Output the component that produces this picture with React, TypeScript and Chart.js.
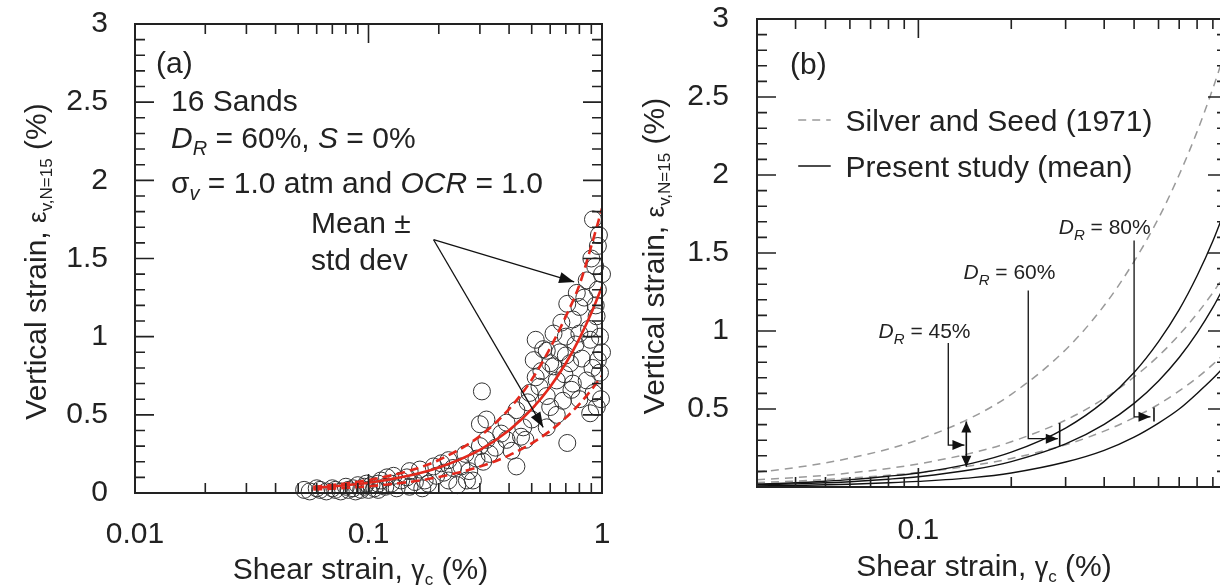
import React, { useEffect, useRef } from 'react';
import { Chart, registerables } from 'chart.js';

Chart.register(...registerables);

const FONT = '"Liberation Sans", Arial, Helvetica, sans-serif';
const INK = '#222222';
const RED = '#e3281c';
const GRAY = '#9a9a9a';

// ---------- Panel (a) data ----------
const scatterX = [
  0.053, 0.056, 0.06, 0.062, 0.066, 0.07, 0.072, 0.076, 0.08, 0.082, 0.086, 0.088, 0.09, 0.093, 0.096, 0.098,
  0.1, 0.103, 0.106, 0.11, 0.11, 0.113, 0.118, 0.12, 0.125, 0.128, 0.132, 0.138, 0.146, 0.15, 0.15, 0.158,
  0.166, 0.17, 0.174, 0.18, 0.19, 0.195, 0.205, 0.21, 0.22, 0.22, 0.23, 0.24, 0.25, 0.26, 0.264, 0.27,
  0.28, 0.29, 0.3, 0.3, 0.306, 0.31, 0.32, 0.32, 0.33, 0.35, 0.37, 0.39, 0.39, 0.41, 0.43, 0.43,
  0.45, 0.46, 0.47, 0.48, 0.49, 0.5, 0.51, 0.52, 0.52, 0.54, 0.55, 0.56, 0.58, 0.58, 0.58, 0.6,
  0.6, 0.62, 0.62, 0.64, 0.64, 0.66, 0.67, 0.68, 0.69, 0.7, 0.7, 0.71, 0.71, 0.73, 0.74, 0.75,
  0.75, 0.77, 0.78, 0.8, 0.8, 0.8, 0.82, 0.84, 0.86, 0.86, 0.88, 0.89, 0.89, 0.9, 0.91, 0.92,
  0.915, 0.935, 0.94, 0.948, 0.95, 0.96, 0.96, 0.96, 0.97, 0.98, 0.98, 0.99, 1.0, 1.0,
];
const scatterY = [
  0.02, 0.01, 0.03, 0.02, 0.01, 0.03, 0.02, 0.01, 0.04, 0.02, 0.03, 0.01, 0.05, 0.02, 0.04, 0.06,
  0.02, 0.05, 0.03, 0.06, 0.02, 0.08, 0.04, 0.1, 0.06, 0.11, 0.03, 0.08, 0.1, 0.14, 0.04, 0.07,
  0.15, 0.03, 0.08, 0.06, 0.17, 0.11, 0.19, 0.13, 0.21, 0.08, 0.16, 0.05, 0.17, 0.25, 0.08, 0.14,
  0.08, 0.22, 0.3, 0.44, 0.65, 0.2, 0.47, 0.34, 0.25, 0.29, 0.38, 0.45, 0.34, 0.27, 0.53, 0.17,
  0.36, 0.42, 0.34, 0.58, 0.64, 0.47, 0.85, 0.74, 0.98, 0.68, 0.78, 0.92, 0.62, 0.42, 0.91, 0.55,
  0.83, 0.81, 1.02, 0.72, 0.5, 0.9, 1.09, 0.59, 0.76, 1.0, 0.88, 0.32, 1.21, 0.83, 0.66, 1.11,
  0.7, 0.95, 1.28, 1.19, 1.02, 0.6, 0.86, 1.25, 1.36, 0.72, 1.05, 0.98, 0.51, 1.5, 0.8, 0.64,
  1.75, 1.45, 1.2, 1.13, 0.55, 1.58, 1.3, 0.85, 1.65, 0.77, 1.0, 0.6, 1.4, 0.9,
];
const curveXA = [0.058, 0.07, 0.08, 0.1, 0.15, 0.2, 0.3, 0.4, 0.5, 0.6, 0.7, 0.8, 0.9, 1.0];
const meanA = [0.033, 0.042, 0.05, 0.066, 0.112, 0.163, 0.276, 0.401, 0.536, 0.68, 0.83, 0.988, 1.151, 1.32];
const upperA = [0.04, 0.051, 0.061, 0.083, 0.143, 0.211, 0.364, 0.537, 0.725, 0.928, 1.13, 1.33, 1.58, 1.82];
const lowerA = [0.022, 0.028, 0.033, 0.043, 0.071, 0.102, 0.169, 0.241, 0.318, 0.398, 0.482, 0.569, 0.659, 0.75];

// ---------- Panel (b) data ----------
const curveXB = [0.03, 0.04, 0.05, 0.06, 0.08, 0.1, 0.15, 0.2, 0.3, 0.4, 0.5, 0.6, 0.7, 0.8, 0.9, 1.0];
const present45 = [0.019, 0.027, 0.037, 0.047, 0.069, 0.09, 0.153, 0.223, 0.378, 0.549, 0.734, 0.932, 1.137, 1.354, 1.577, 1.81];
const present60 = [0.014, 0.02, 0.027, 0.034, 0.05, 0.066, 0.112, 0.163, 0.276, 0.401, 0.536, 0.68, 0.83, 0.988, 1.151, 1.32];
const present80 = [0.007, 0.01, 0.014, 0.018, 0.027, 0.036, 0.06, 0.09, 0.16, 0.235, 0.32, 0.41, 0.5, 0.6, 0.695, 0.79];
const silver45 = [0.094, 0.125, 0.155, 0.185, 0.244, 0.303, 0.449, 0.594, 0.88, 1.163, 1.446, 1.723, 2.002, 2.278, 2.555, 2.83];
const silver60 = [0.046, 0.061, 0.075, 0.09, 0.119, 0.148, 0.219, 0.29, 0.429, 0.567, 0.705, 0.84, 0.976, 1.111, 1.246, 1.38];
const silver80 = [0.029, 0.038, 0.048, 0.057, 0.075, 0.093, 0.138, 0.183, 0.271, 0.358, 0.445, 0.53, 0.616, 0.7, 0.786, 0.87];

// ---------- Axis ticks ----------
const xMajorA = [0.01, 0.1, 1];
const xMinorA = [0.02, 0.03, 0.04, 0.05, 0.06, 0.07, 0.08, 0.09, 0.2, 0.3, 0.4, 0.5, 0.6, 0.7, 0.8, 0.9];
const xMajorB = [0.1, 1];
const xMinorB = [0.04, 0.05, 0.06, 0.07, 0.08, 0.09, 0.2, 0.3, 0.4, 0.5, 0.6, 0.7, 0.8, 0.9];
const yMajor = [0, 0.5, 1, 1.5, 2, 2.5, 3];
const yMinor = [0.1, 0.2, 0.3, 0.4, 0.6, 0.7, 0.8, 0.9, 1.1, 1.2, 1.3, 1.4, 1.6, 1.7, 1.8, 1.9, 2.1, 2.2, 2.3, 2.4, 2.6, 2.7, 2.8, 2.9];

// ---------- Annotation anchors (data coordinates) ----------
const arrowStartA = [0.19, 1.62];
const arrowEndsA = [[0.76, 1.35], [0.56, 0.42]];
const leader45 = [[0.125, 0.923], [0.125, 0.269], [0.141, 0.269]];
const leader60 = [[0.227, 1.26], [0.227, 0.31], [0.283, 0.31]];
const leader80 = [[0.5, 1.58], [0.5, 0.45], [0.565, 0.45]];
const bar45 = [[0.143, 0.13], [0.143, 0.42]];
const bar60 = [[0.287, 0.26], [0.287, 0.41]];
const bar80 = [[0.58, 0.42], [0.58, 0.51]];

type Seg = { t: string; size: number; italic?: boolean; dy?: number };

const fontStr = (size: number, italic?: boolean) => `${italic ? 'italic ' : ''}${size}px ${FONT}`;

function richWidth(ctx: CanvasRenderingContext2D, segs: Seg[]) {
  let w = 0;
  for (const s of segs) {
    ctx.font = fontStr(s.size, s.italic);
    w += ctx.measureText(s.t).width;
  }
  return w;
}

function drawRich(ctx: CanvasRenderingContext2D, segs: Seg[], x: number, yc: number, align: 'left' | 'center') {
  const w = richWidth(ctx, segs);
  let cx = align === 'center' ? x - w / 2 : x;
  const baseline = yc + segs[0].size * 0.36;
  ctx.textAlign = 'left';
  ctx.textBaseline = 'alphabetic';
  ctx.fillStyle = INK;
  for (const s of segs) {
    ctx.font = fontStr(s.size, s.italic);
    ctx.fillText(s.t, cx, baseline + (s.dy || 0));
    cx += ctx.measureText(s.t).width;
  }
}

function head(ctx: CanvasRenderingContext2D, x1: number, y1: number, x2: number, y2: number, len: number, half: number) {
  const a = Math.atan2(y2 - y1, x2 - x1);
  const bx = x2 - len * Math.cos(a);
  const by = y2 - len * Math.sin(a);
  ctx.beginPath();
  ctx.moveTo(x2, y2);
  ctx.lineTo(bx + half * Math.sin(a), by - half * Math.cos(a));
  ctx.lineTo(bx - half * Math.sin(a), by + half * Math.cos(a));
  ctx.closePath();
  ctx.fill();
}

function drawFrame(chart: any, xMajor: number[], xMinor: number[]) {
  const { ctx, chartArea: a, scales } = chart;
  const xs = scales.x;
  const ys = scales.y;
  ctx.save();
  ctx.strokeStyle = INK;
  ctx.lineWidth = 1.6;
  ctx.beginPath();
  const vx = (v: number, len: number) => {
    const p = xs.getPixelForValue(v);
    if (p < a.left - 0.5 || p > a.right + 0.5) return;
    ctx.moveTo(p, a.bottom);
    ctx.lineTo(p, a.bottom - len);
    ctx.moveTo(p, a.top);
    ctx.lineTo(p, a.top + len);
  };
  const vy = (v: number, len: number) => {
    const p = ys.getPixelForValue(v);
    ctx.moveTo(a.left, p);
    ctx.lineTo(a.left + len, p);
    ctx.moveTo(a.right, p);
    ctx.lineTo(a.right - len, p);
  };
  xMajor.forEach((v) => vx(v, 19));
  xMinor.forEach((v) => vx(v, 10));
  yMajor.forEach((v) => vy(v, 19));
  yMinor.forEach((v) => vy(v, 10));
  ctx.stroke();
  ctx.lineWidth = 2;
  ctx.strokeRect(a.left, a.top, a.right - a.left, a.bottom - a.top);
  ctx.restore();
}

function drawTitles(chart: any, yTitleX: number, xTitleY: number) {
  const { ctx, chartArea: a } = chart;
  ctx.save();
  drawRich(
    ctx,
    [
      { t: 'Shear strain, ', size: 30 },
      { t: 'γ', size: 27 },
      { t: 'c', size: 17, dy: 6 },
      { t: ' (%)', size: 30 },
    ],
    (a.left + a.right) / 2 - 8,
    xTitleY,
    'center'
  );
  ctx.translate(yTitleX, (a.top + a.bottom) / 2 + 3);
  ctx.rotate(-Math.PI / 2);
  drawRich(
    ctx,
    [
      { t: 'Vertical strain, ', size: 30 },
      { t: 'ε', size: 26 },
      { t: 'v,N=15', size: 17, dy: 6 },
      { t: ' (%)', size: 30 },
    ],
    0,
    0,
    'center'
  );
  ctx.restore();
}

const decorA = {
  id: 'decorA',
  afterDraw(chart: any) {
    const { ctx, scales } = chart;
    const X = (v: number) => scales.x.getPixelForValue(v);
    const Y = (v: number) => scales.y.getPixelForValue(v);
    drawFrame(chart, xMajorA, xMinorA);
    drawTitles(chart, 35, 568);
    ctx.save();
    drawRich(ctx, [{ t: '(a)', size: 30 }], X(0.0123), Y(2.757), 'left');
    drawRich(ctx, [{ t: '16 Sands', size: 30 }], X(0.01426), Y(2.514), 'left');
    drawRich(
      ctx,
      [
        { t: 'D', size: 30, italic: true },
        { t: 'R', size: 20, italic: true, dy: 7 },
        { t: ' = 60%, ', size: 30 },
        { t: 'S', size: 30, italic: true },
        { t: ' = 0%', size: 30 },
      ],
      X(0.01426),
      Y(2.277),
      'left'
    );
    drawRich(
      ctx,
      [
        { t: 'σ', size: 30 },
        { t: 'v', size: 20, italic: true, dy: 7 },
        { t: ' = 1.0 atm and ', size: 30 },
        { t: 'OCR', size: 30, italic: true },
        { t: ' = 1.0', size: 30 },
      ],
      X(0.01426),
      Y(1.989),
      'left'
    );
    drawRich(ctx, [{ t: 'Mean ±', size: 30 }], X(0.0567), Y(1.733), 'left');
    drawRich(ctx, [{ t: 'std dev', size: 30 }], X(0.0567), Y(1.497), 'left');
    ctx.strokeStyle = '#111';
    ctx.fillStyle = '#111';
    ctx.lineWidth = 1.3;
    const sx = X(arrowStartA[0]);
    const sy = Y(arrowStartA[1]);
    for (const e of arrowEndsA) {
      const ex = X(e[0]);
      const ey = Y(e[1]);
      ctx.beginPath();
      ctx.moveTo(sx, sy);
      ctx.lineTo(ex, ey);
      ctx.stroke();
      head(ctx, sx, sy, ex, ey, 15, 5.5);
    }
    ctx.restore();
  },
};

const decorB = {
  id: 'decorB',
  afterDraw(chart: any) {
    const { ctx, scales } = chart;
    const X = (v: number) => scales.x.getPixelForValue(v);
    const Y = (v: number) => scales.y.getPixelForValue(v);
    drawFrame(chart, xMajorB, xMinorB);
    drawTitles(chart, 33, 565);
    ctx.save();
    drawRich(ctx, [{ t: '(b)', size: 30 }], X(0.0384), Y(2.718), 'left');
    // legend
    ctx.lineWidth = 1.5;
    ctx.strokeStyle = GRAY;
    ctx.setLineDash([8, 6]);
    ctx.beginPath();
    ctx.moveTo(X(0.0408), Y(2.353));
    ctx.lineTo(X(0.052), Y(2.353));
    ctx.stroke();
    ctx.setLineDash([]);
    ctx.strokeStyle = '#111';
    ctx.beginPath();
    ctx.moveTo(X(0.0408), Y(2.058));
    ctx.lineTo(X(0.052), Y(2.058));
    ctx.stroke();
    drawRich(ctx, [{ t: 'Silver and Seed (1971)', size: 30 }], X(0.0581), Y(2.353), 'left');
    drawRich(ctx, [{ t: 'Present study (mean)', size: 30 }], X(0.0581), Y(2.058), 'left');
    // D_R labels
    const dr = (txt: string, x: number, y: number) =>
      drawRich(
        ctx,
        [
          { t: 'D', size: 21, italic: true },
          { t: 'R', size: 15, italic: true, dy: 6 },
          { t: txt, size: 21 },
        ],
        X(x),
        Y(y),
        'left'
      );
    dr(' = 45%', 0.0743, 1.006);
    dr(' = 60%', 0.14, 1.385);
    dr(' = 80%', 0.285, 1.67);
    ctx.strokeStyle = '#111';
    ctx.fillStyle = '#111';
    ctx.lineWidth = 1.3;
    for (const L of [leader45, leader60, leader80]) {
      ctx.beginPath();
      L.forEach((p, i) => (i === 0 ? ctx.moveTo(X(p[0]), Y(p[1])) : ctx.lineTo(X(p[0]), Y(p[1]))));
      ctx.stroke();
      const n = L.length;
      head(ctx, X(L[n - 2][0]), Y(L[n - 2][1]), X(L[n - 1][0]), Y(L[n - 1][1]), 12, 5);
    }
    ctx.lineWidth = 1.6;
    for (const B of [bar45, bar60, bar80]) {
      ctx.beginPath();
      ctx.moveTo(X(B[0][0]), Y(B[0][1]));
      ctx.lineTo(X(B[1][0]), Y(B[1][1]));
      ctx.stroke();
    }
    const bx = X(bar45[0][0]);
    head(ctx, bx, Y(bar45[1][1]) + 10, bx, Y(bar45[1][1]), 11, 5);
    head(ctx, bx, Y(bar45[0][1]) - 10, bx, Y(bar45[0][1]), 11, 5);
    ctx.restore();
  },
};

const pts = (xs: number[], ys: number[]) => xs.map((x, i) => ({ x, y: ys[i] }));

const lineDs = (data: any[], color: string, width: number, dash: number[]) => ({
  data,
  showLine: true,
  borderColor: color,
  backgroundColor: color,
  borderWidth: width,
  borderDash: dash,
  pointRadius: 0,
  cubicInterpolationMode: 'monotone',
  fill: false,
});

const zeroPad = (s: any) => {
  s.paddingTop = 0;
  s.paddingBottom = 0;
  s.paddingLeft = 0;
  s.paddingRight = 0;
};

function axes(xMin: number, xMajor: number[], yWidth: number, xHeight: number, xPad: number, yPad: number, hideZero: boolean) {
  return {
    x: {
      type: 'logarithmic',
      min: xMin,
      max: 1,
      grid: { display: false },
      border: { display: false },
      ticks: {
        font: { family: FONT, size: 30 },
        color: INK,
        padding: xPad,
        maxRotation: 0,
        autoSkip: false,
        callback: (v: any) => String(v),
      },
      afterBuildTicks: (s: any) => {
        s.ticks = xMajor.map((v) => ({ value: v }));
      },
      afterFit: (s: any) => {
        s.height = xHeight;
        zeroPad(s);
      },
    },
    y: {
      type: 'linear',
      min: 0,
      max: 3,
      grid: { display: false },
      border: { display: false },
      ticks: {
        font: { family: FONT, size: 30 },
        color: INK,
        padding: yPad,
        autoSkip: false,
        callback: (v: any) => (hideZero && v === 0 ? '' : String(v)),
      },
      afterBuildTicks: (s: any) => {
        s.ticks = yMajor.map((v) => ({ value: v }));
      },
      afterFit: (s: any) => {
        s.width = yWidth;
        zeroPad(s);
      },
    },
  };
}

export default function App() {
  const refA = useRef<HTMLCanvasElement>(null);
  const refB = useRef<HTMLCanvasElement>(null);

  useEffect(() => {
    const common = {
      animation: false,
      responsive: false,
      devicePixelRatio: 1,
      events: [],
      plugins: { legend: { display: false }, tooltip: { enabled: false } },
    };
    const chartA = new Chart(refA.current as HTMLCanvasElement, {
      type: 'scatter',
      data: {
        datasets: [
          lineDs(pts(curveXA, upperA), RED, 2.6, [9, 5]),
          lineDs(pts(curveXA, meanA), RED, 2.6, []),
          lineDs(pts(curveXA, lowerA), RED, 2.6, [9, 5]),
          {
            data: pts(scatterX, scatterY),
            pointRadius: 8.5,
            pointStyle: 'circle',
            backgroundColor: 'rgba(0,0,0,0)',
            borderColor: '#333',
            borderWidth: 1,
            clip: false,
          },
        ],
      } as any,
      options: {
        ...common,
        layout: { padding: { top: 24, right: 18, left: 0, bottom: 0 } },
        scales: axes(0.01, xMajorA, 135, 95, 16, 19, false),
      } as any,
      plugins: [decorA],
    });
    const chartB = new Chart(refB.current as HTMLCanvasElement, {
      type: 'scatter',
      data: {
        datasets: [
          lineDs(pts(curveXB, present45), '#111', 1.4, []),
          lineDs(pts(curveXB, present60), '#111', 1.4, []),
          lineDs(pts(curveXB, present80), '#111', 1.4, []),
          lineDs(pts(curveXB, silver45), GRAY, 1.5, [8, 6]),
          lineDs(pts(curveXB, silver60), GRAY, 1.5, [8, 6]),
          lineDs(pts(curveXB, silver80), GRAY, 1.5, [8, 6]),
        ],
      } as any,
      options: {
        ...common,
        layout: { padding: { top: 19, right: 18, left: 0, bottom: 0 } },
        scales: axes(0.03, xMajorB, 137, 101, 18, 20, true),
      } as any,
      plugins: [decorB],
    });
    return () => {
      chartA.destroy();
      chartB.destroy();
    };
  }, []);

  return (
    <div
      style={{
        position: 'fixed',
        left: 0,
        top: 0,
        width: 1220,
        height: 588,
        overflow: 'hidden',
        background: '#ffffff',
      }}
    >
      <canvas
        ref={refA}
        width={620}
        height={588}
        style={{ position: 'absolute', left: 0, top: 0, width: 620, height: 588 }}
      />
      <canvas
        ref={refB}
        width={625}
        height={588}
        style={{ position: 'absolute', left: 620, top: 0, width: 625, height: 588 }}
      />
    </div>
  );
}
